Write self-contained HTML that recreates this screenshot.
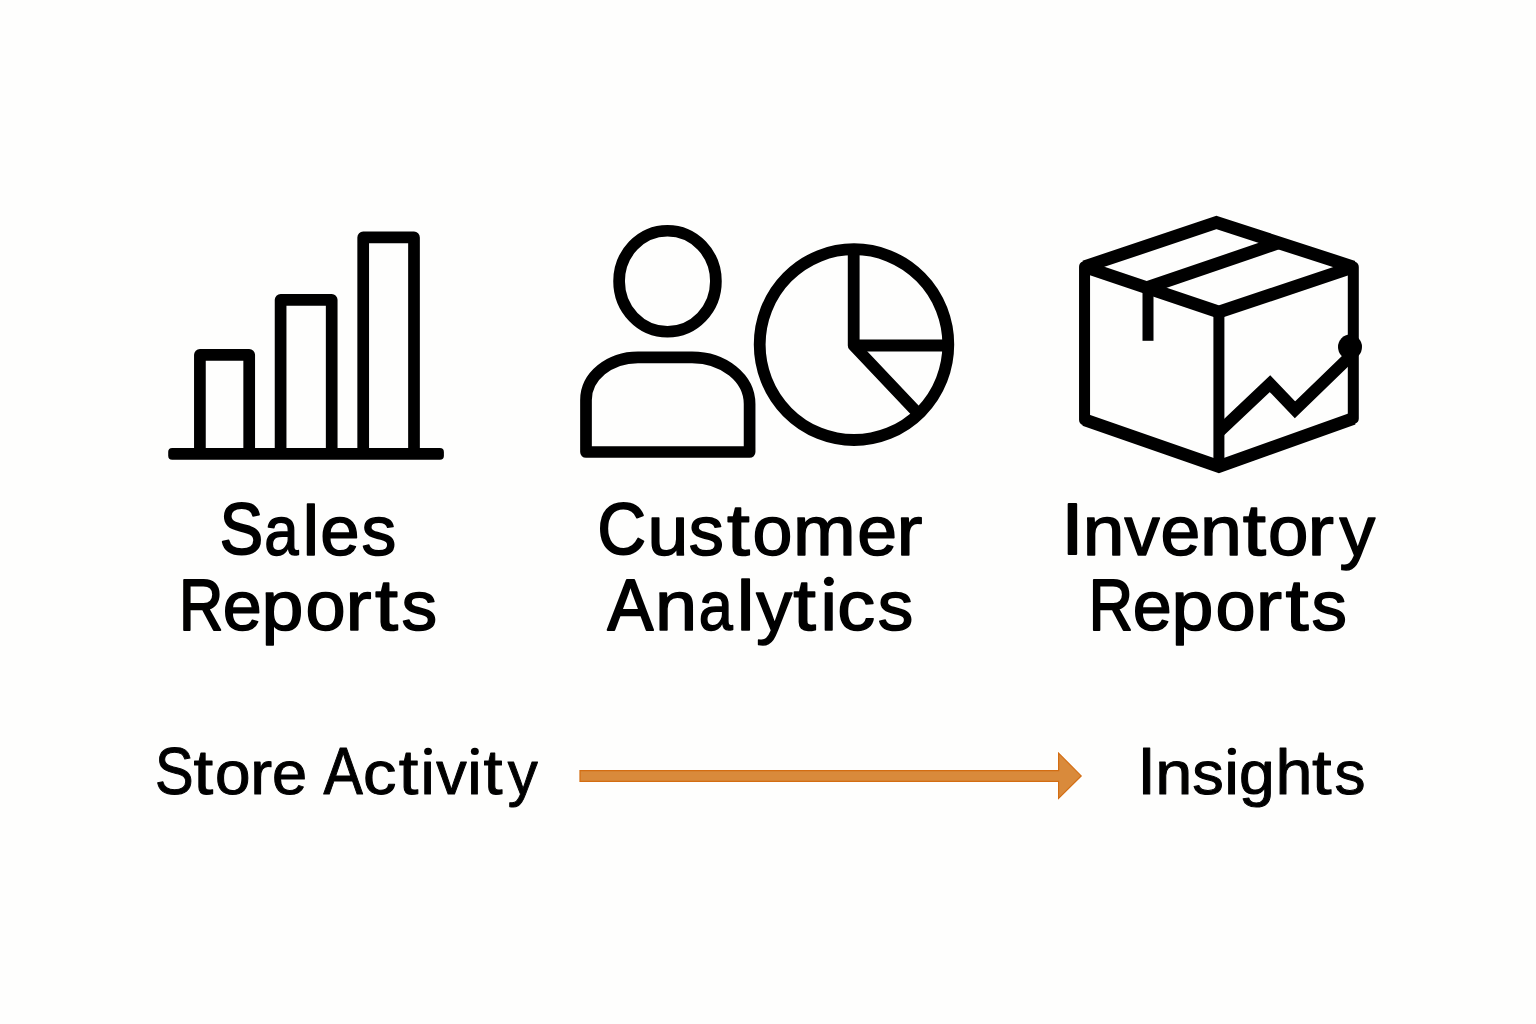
<!DOCTYPE html>
<html>
<head>
<meta charset="utf-8">
<style>
html,body{margin:0;padding:0;background:#fefefd;}
body{width:1536px;height:1024px;overflow:hidden;}
svg{display:block;}
text{font-family:"Liberation Sans", sans-serif;fill:#000;stroke:#000;stroke-linejoin:round;}
</style>
</head>
<body>
<svg width="1536" height="1024" viewBox="0 0 1536 1024">
<rect width="1536" height="1024" fill="#fefefd"/>
<!-- Bar chart icon -->
<g fill="none" stroke="#000" stroke-width="11.7" stroke-linejoin="round">
  <path d="M199.9,454 V354.8 H249.2 V454"/>
  <path d="M280.6,454 V299.8 H331.7 V454"/>
  <path d="M363.2,454 V237.4 H414 V454"/>
</g>
<rect x="168.2" y="448.1" width="275.7" height="11.7" rx="4" fill="#000"/>

<!-- Person icon -->
<g fill="none" stroke="#000" stroke-width="11.7" stroke-linejoin="round">
  <ellipse cx="667.5" cy="281.25" rx="48.4" ry="50.5"/>
  <path d="M586,452 V400 C586,376.4 609.3,357.3 638,357.3 H692 C723.8,357.3 749.6,378.2 749.6,404 V452 Z"/>
</g>

<!-- Pie chart icon -->
<g fill="none" stroke="#000" stroke-width="11.8" stroke-linejoin="miter">
  <ellipse cx="854" cy="344.6" rx="94.3" ry="95.4"/>
  <path d="M853.7,249.5 V345.5 L919,414.5" stroke-linejoin="round"/>
  <path d="M853.7,345.5 H948"/>
</g>

<!-- Box icon -->
<g fill="none" stroke="#000">
  <g stroke-width="11" stroke-linejoin="round" stroke-linecap="butt">
    <path d="M1084.55,419.7 V266.8 L1216.4,222.5 L1353.3,267 V418.5 L1218.9,466.5 Z"/>
    <path d="M1218.9,312 V466.5"/>
    <path d="M1148,287.4 V340.8"/>
  </g>
  <g stroke-width="12.8" stroke-linejoin="miter" stroke-linecap="butt">
    <path d="M1084.55,266.8 L1216.4,222.5 L1353.3,267"/>
    <path d="M1084.55,266.8 L1218.9,312 L1353.3,267"/>
    <path d="M1084.55,419.7 L1218.9,466.5 L1353.3,418.5"/>
    <path d="M1148,287.4 L1278,243"/>
  </g>
  <path d="M1218.9,432 L1270,383.7 L1295,409.8 L1350,356.5" stroke-width="12" stroke-linejoin="miter" stroke-linecap="butt"/>
</g>
<ellipse cx="1350" cy="347" rx="12" ry="12.4" fill="#000"/>

<!-- Arrow -->
<path d="M580,770.6 H1058.6 V753.2 L1081.2,775.9 L1058.6,798.4 V781.4 H580 Z" fill="#d98a3b" stroke="#d36d12" stroke-width="1.2" stroke-linejoin="miter"/>

<text><tspan x="219.74" y="553.90" font-size="73.00" stroke-width="2.00" textLength="43.35" lengthAdjust="spacingAndGlyphs">S</tspan><tspan x="264.13" y="554.60" font-size="70.80" stroke-width="1.50" textLength="34.31" lengthAdjust="spacingAndGlyphs">a</tspan><tspan x="302.53" y="554.60" font-size="70.80" stroke-width="1.50" textLength="16.70" lengthAdjust="spacingAndGlyphs">l</tspan><tspan x="320.34" y="554.60" font-size="70.80" stroke-width="1.50" textLength="39.35" lengthAdjust="spacingAndGlyphs">e</tspan><tspan x="361.60" y="554.60" font-size="70.80" stroke-width="1.50" textLength="34.78" lengthAdjust="spacingAndGlyphs">s</tspan></text>
<text><tspan x="597.51" y="553.90" font-size="73.00" stroke-width="2.00" textLength="48.42" lengthAdjust="spacingAndGlyphs">C</tspan><tspan x="647.42" y="554.60" font-size="70.80" stroke-width="1.50" textLength="40.78" lengthAdjust="spacingAndGlyphs">u</tspan><tspan x="688.79" y="554.60" font-size="70.80" stroke-width="1.50" textLength="35.10" lengthAdjust="spacingAndGlyphs">s</tspan><tspan x="726.91" y="554.60" font-size="72.57" stroke-width="1.50" textLength="22.85" lengthAdjust="spacingAndGlyphs">t</tspan><tspan x="752.45" y="554.60" font-size="70.80" stroke-width="1.50" textLength="39.91" lengthAdjust="spacingAndGlyphs">o</tspan><tspan x="792.90" y="554.60" font-size="70.80" stroke-width="1.50" textLength="62.66" lengthAdjust="spacingAndGlyphs">m</tspan><tspan x="857.32" y="554.60" font-size="70.80" stroke-width="1.50" textLength="39.80" lengthAdjust="spacingAndGlyphs">e</tspan><tspan x="896.56" y="554.60" font-size="70.80" stroke-width="1.50" textLength="25.91" lengthAdjust="spacingAndGlyphs">r</tspan></text>
<text><tspan x="1061.51" y="553.90" font-size="73.00" stroke-width="2.00" textLength="21.87" lengthAdjust="spacingAndGlyphs">I</tspan><tspan x="1082.72" y="554.60" font-size="70.80" stroke-width="1.50" textLength="41.65" lengthAdjust="spacingAndGlyphs">n</tspan><tspan x="1124.50" y="554.60" font-size="70.80" stroke-width="1.50" textLength="35.19" lengthAdjust="spacingAndGlyphs">v</tspan><tspan x="1160.42" y="554.60" font-size="70.80" stroke-width="1.50" textLength="39.80" lengthAdjust="spacingAndGlyphs">e</tspan><tspan x="1199.90" y="554.60" font-size="70.80" stroke-width="1.50" textLength="41.90" lengthAdjust="spacingAndGlyphs">n</tspan><tspan x="1242.70" y="554.60" font-size="72.57" stroke-width="1.50" textLength="23.25" lengthAdjust="spacingAndGlyphs">t</tspan><tspan x="1268.02" y="554.60" font-size="70.80" stroke-width="1.50" textLength="40.36" lengthAdjust="spacingAndGlyphs">o</tspan><tspan x="1307.48" y="554.60" font-size="70.80" stroke-width="1.50" textLength="26.40" lengthAdjust="spacingAndGlyphs">r</tspan><tspan x="1339.48" y="554.60" font-size="70.80" stroke-width="1.50" textLength="35.70" lengthAdjust="spacingAndGlyphs">y</tspan></text>
<text><tspan x="178.91" y="629.70" font-size="73.00" stroke-width="2.00" textLength="44.30" lengthAdjust="spacingAndGlyphs">R</tspan><tspan x="222.76" y="629.70" font-size="70.80" stroke-width="1.50" textLength="39.01" lengthAdjust="spacingAndGlyphs">e</tspan><tspan x="261.54" y="629.70" font-size="70.80" stroke-width="1.50" textLength="41.93" lengthAdjust="spacingAndGlyphs">p</tspan><tspan x="305.43" y="629.70" font-size="70.80" stroke-width="1.50" textLength="40.13" lengthAdjust="spacingAndGlyphs">o</tspan><tspan x="345.54" y="629.70" font-size="70.80" stroke-width="1.50" textLength="26.03" lengthAdjust="spacingAndGlyphs">r</tspan><tspan x="375.10" y="629.70" font-size="72.57" stroke-width="1.50" textLength="23.05" lengthAdjust="spacingAndGlyphs">t</tspan><tspan x="401.57" y="629.70" font-size="70.80" stroke-width="1.50" textLength="35.65" lengthAdjust="spacingAndGlyphs">s</tspan></text>
<text><tspan x="607.41" y="629.70" font-size="73.00" stroke-width="2.00" textLength="45.79" lengthAdjust="spacingAndGlyphs">A</tspan><tspan x="654.97" y="629.70" font-size="70.80" stroke-width="1.50" textLength="42.15" lengthAdjust="spacingAndGlyphs">n</tspan><tspan x="698.75" y="629.70" font-size="70.80" stroke-width="1.50" textLength="34.00" lengthAdjust="spacingAndGlyphs">a</tspan><tspan x="736.47" y="629.70" font-size="70.80" stroke-width="1.50" textLength="18.13" lengthAdjust="spacingAndGlyphs">l</tspan><tspan x="756.39" y="629.70" font-size="70.80" stroke-width="1.50" textLength="35.89" lengthAdjust="spacingAndGlyphs">y</tspan><tspan x="793.31" y="629.70" font-size="72.57" stroke-width="1.50" textLength="22.65" lengthAdjust="spacingAndGlyphs">t</tspan><tspan x="820.62" y="629.70" font-size="70.80" stroke-width="1.50" textLength="16.50" lengthAdjust="spacingAndGlyphs">i</tspan><tspan x="837.28" y="629.70" font-size="70.80" stroke-width="1.50" textLength="37.91" lengthAdjust="spacingAndGlyphs">c</tspan><tspan x="877.67" y="629.70" font-size="70.80" stroke-width="1.50" textLength="35.54" lengthAdjust="spacingAndGlyphs">s</tspan></text>
<text><tspan x="1088.81" y="629.70" font-size="73.00" stroke-width="2.00" textLength="44.30" lengthAdjust="spacingAndGlyphs">R</tspan><tspan x="1132.66" y="629.70" font-size="70.80" stroke-width="1.50" textLength="39.01" lengthAdjust="spacingAndGlyphs">e</tspan><tspan x="1171.44" y="629.70" font-size="70.80" stroke-width="1.50" textLength="41.93" lengthAdjust="spacingAndGlyphs">p</tspan><tspan x="1215.43" y="629.70" font-size="70.80" stroke-width="1.50" textLength="40.13" lengthAdjust="spacingAndGlyphs">o</tspan><tspan x="1255.70" y="629.70" font-size="70.80" stroke-width="1.50" textLength="26.28" lengthAdjust="spacingAndGlyphs">r</tspan><tspan x="1285.40" y="629.70" font-size="72.57" stroke-width="1.50" textLength="23.15" lengthAdjust="spacingAndGlyphs">t</tspan><tspan x="1311.58" y="629.70" font-size="70.80" stroke-width="1.50" textLength="35.43" lengthAdjust="spacingAndGlyphs">s</tspan></text>
<text><tspan x="155.01" y="793.60" font-size="66.50" stroke-width="1.00" textLength="38.62" lengthAdjust="spacingAndGlyphs">S</tspan><tspan x="193.49" y="793.60" font-size="62.52" stroke-width="1.00" textLength="19.66" lengthAdjust="spacingAndGlyphs">t</tspan><tspan x="214.94" y="793.60" font-size="61.00" stroke-width="1.00" textLength="35.52" lengthAdjust="spacingAndGlyphs">o</tspan><tspan x="250.38" y="793.60" font-size="61.00" stroke-width="1.00" textLength="21.88" lengthAdjust="spacingAndGlyphs">r</tspan><tspan x="272.13" y="793.60" font-size="61.00" stroke-width="1.00" textLength="35.16" lengthAdjust="spacingAndGlyphs">e</tspan><tspan x="315.53" y="793.60"> </tspan><tspan x="323.53" y="793.60" font-size="66.50" stroke-width="1.00" textLength="39.34" lengthAdjust="spacingAndGlyphs">A</tspan><tspan x="362.91" y="793.60" font-size="61.00" stroke-width="1.00" textLength="33.40" lengthAdjust="spacingAndGlyphs">c</tspan><tspan x="398.70" y="793.60" font-size="62.52" stroke-width="1.00" textLength="19.56" lengthAdjust="spacingAndGlyphs">t</tspan><tspan x="420.43" y="793.60" font-size="61.00" stroke-width="1.00" textLength="14.27" lengthAdjust="spacingAndGlyphs">i</tspan><tspan x="436.29" y="793.60" font-size="61.00" stroke-width="1.00" textLength="30.42" lengthAdjust="spacingAndGlyphs">v</tspan><tspan x="467.27" y="793.60" font-size="61.00" stroke-width="1.00" textLength="14.49" lengthAdjust="spacingAndGlyphs">i</tspan><tspan x="483.41" y="793.60" font-size="62.52" stroke-width="1.00" textLength="19.04" lengthAdjust="spacingAndGlyphs">t</tspan><tspan x="507.75" y="793.60" font-size="61.00" stroke-width="1.00" textLength="29.98" lengthAdjust="spacingAndGlyphs">y</tspan></text>
<text><tspan x="1137.29" y="793.60" font-size="66.50" stroke-width="1.00" textLength="18.73" lengthAdjust="spacingAndGlyphs">I</tspan><tspan x="1155.32" y="793.60" font-size="61.00" stroke-width="1.00" textLength="37.06" lengthAdjust="spacingAndGlyphs">n</tspan><tspan x="1192.16" y="793.60" font-size="61.00" stroke-width="1.00" textLength="31.50" lengthAdjust="spacingAndGlyphs">s</tspan><tspan x="1224.22" y="793.60" font-size="61.00" stroke-width="1.00" textLength="14.70" lengthAdjust="spacingAndGlyphs">i</tspan><tspan x="1239.13" y="793.60" font-size="61.00" stroke-width="1.00" textLength="35.68" lengthAdjust="spacingAndGlyphs">g</tspan><tspan x="1275.52" y="793.60" font-size="62.83" stroke-width="1.00" textLength="36.97" lengthAdjust="spacingAndGlyphs">h</tspan><tspan x="1312.00" y="793.60" font-size="62.52" stroke-width="1.00" textLength="19.56" lengthAdjust="spacingAndGlyphs">t</tspan><tspan x="1334.48" y="793.60" font-size="61.00" stroke-width="1.00" textLength="30.94" lengthAdjust="spacingAndGlyphs">s</tspan></text>
<rect x="822.0" y="570.0" width="14.0" height="19.0" fill="#fefefd"/>
<ellipse cx="828.9" cy="581.45" rx="5.0" ry="4.6" fill="#000"/>
<rect x="421.5" y="742.0" width="12.0" height="15.6" fill="#fefefd"/>
<ellipse cx="428.05" cy="751.45" rx="3.9" ry="3.6" fill="#000"/>
<rect x="468.5" y="742.0" width="12.0" height="15.6" fill="#fefefd"/>
<ellipse cx="474.85" cy="751.45" rx="3.95" ry="3.6" fill="#000"/>
<rect x="1225.0" y="742.0" width="13.5" height="15.6" fill="#fefefd"/>
<ellipse cx="1231.9" cy="751.4" rx="4.1" ry="3.55" fill="#000"/>
</svg>
</body>
</html>
